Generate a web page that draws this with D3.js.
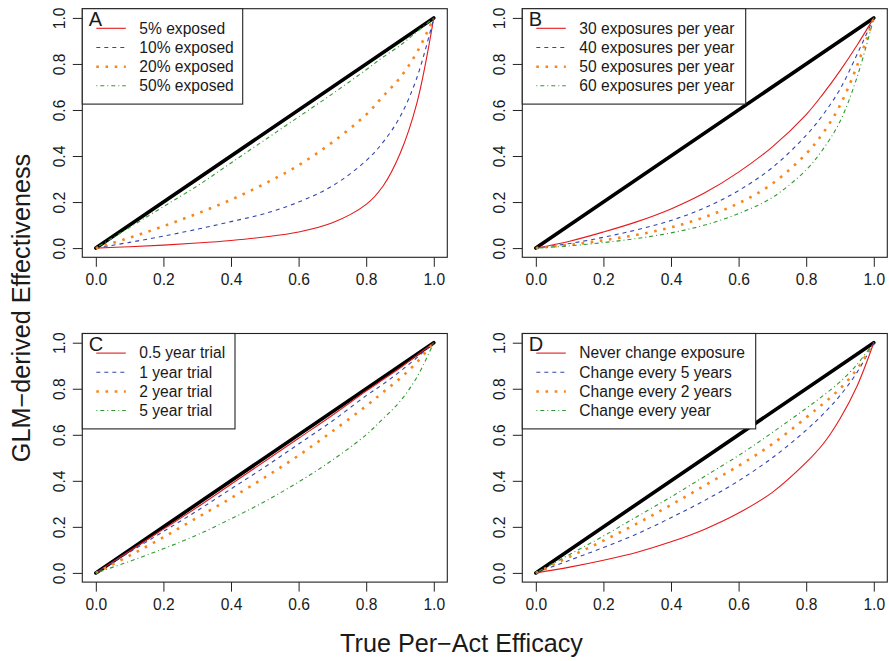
<!DOCTYPE html>
<html>
<head>
<meta charset="utf-8">
<script src="https://cdn.jsdelivr.net/npm/d3@7"></script>
<style>
  body { margin: 0; background: #fff; }
  svg { display: block; }
  text { font-family: "Liberation Sans", Arial, Helvetica, sans-serif; fill: #1a1a1a; }
</style>
</head>
<body>
<svg id="chart" width="889" height="661"></svg>
<script>
// Shared efficacy grid (x) for every curve
const efficacy = [0, 0.1, 0.2, 0.3, 0.4, 0.5, 0.6, 0.7, 0.8, 0.85, 0.9, 0.95, 1];
const tickValues = [0, 0.2, 0.4, 0.6, 0.8, 1.0];
const tickLabels = ["0.0", "0.2", "0.4", "0.6", "0.8", "1.0"];
const identityLine = [0, 1];

// Panel A: fraction of population exposed
const labelsA = ["5% exposed", "10% exposed", "20% exposed", "50% exposed"];
const exposed5  = [0, 0.006, 0.013, 0.022, 0.033, 0.048, 0.07, 0.11, 0.19, 0.27, 0.41, 0.63, 1];
const exposed10 = [0, 0.025, 0.052, 0.082, 0.115, 0.15, 0.20, 0.27, 0.38, 0.46, 0.57, 0.74, 1];
const exposed20 = [0, 0.045, 0.095, 0.15, 0.21, 0.28, 0.36, 0.46, 0.58, 0.66, 0.74, 0.85, 1];
const exposed50 = [0, 0.09, 0.18, 0.27, 0.37, 0.47, 0.57, 0.67, 0.775, 0.83, 0.88, 0.94, 1];

// Panel B: exposures per year
const labelsB = ["30 exposures per year", "40 exposures per year", "50 exposures per year", "60 exposures per year"];
const perYear30 = [0, 0.03, 0.07, 0.115, 0.17, 0.24, 0.33, 0.44, 0.58, 0.67, 0.77, 0.88, 1];
const perYear40 = [0, 0.02, 0.047, 0.08, 0.12, 0.175, 0.25, 0.35, 0.49, 0.58, 0.69, 0.84, 1];
const perYear50 = [0, 0.014, 0.034, 0.058, 0.09, 0.135, 0.195, 0.28, 0.41, 0.50, 0.62, 0.79, 1];
const perYear60 = [0, 0.01, 0.024, 0.042, 0.066, 0.10, 0.15, 0.22, 0.34, 0.43, 0.55, 0.74, 1];

// Panel C: trial duration
const labelsC = ["0.5 year trial", "1 year trial", "2 year trial", "5 year trial"];
const trialHalf = [0, 0.095, 0.19, 0.285, 0.385, 0.485, 0.585, 0.685, 0.79, 0.84, 0.89, 0.945, 1];
const trial1    = [0, 0.09, 0.18, 0.27, 0.365, 0.46, 0.56, 0.66, 0.77, 0.82, 0.875, 0.935, 1];
const trial2    = [0, 0.075, 0.155, 0.24, 0.325, 0.415, 0.51, 0.615, 0.725, 0.785, 0.845, 0.915, 1];
const trial5    = [0, 0.05, 0.105, 0.165, 0.235, 0.31, 0.395, 0.49, 0.60, 0.67, 0.745, 0.85, 1];

// Panel D: how often exposure status changes
const labelsD = ["Never change exposure", "Change every 5 years", "Change every 2 years", "Change every year"];
const changeNever  = [0, 0.025, 0.055, 0.09, 0.135, 0.19, 0.26, 0.35, 0.48, 0.56, 0.67, 0.81, 1];
const changeFive   = [0, 0.055, 0.11, 0.17, 0.24, 0.315, 0.40, 0.50, 0.62, 0.69, 0.77, 0.87, 1];
const changeTwo    = [0, 0.07, 0.14, 0.215, 0.295, 0.38, 0.465, 0.56, 0.675, 0.735, 0.80, 0.885, 1];
const changeYearly = [0, 0.08, 0.16, 0.245, 0.33, 0.42, 0.51, 0.61, 0.715, 0.77, 0.83, 0.905, 1];

// Line styles shared by all panels (solid, dashed, dotted, dot-dash)
const styles = [
  { color: "#e41a1c", width: 1.1, dash: null, cap: "butt" },
  { color: "#3346ad", width: 1.1, dash: "4,4", cap: "butt" },
  { color: "#f7861c", width: 2.6, dash: "2.6,6.6", cap: "butt" },
  { color: "#2f9a2f", width: 1.1, dash: "1,3,4,3", cap: "butt" }
];

const panels = [
  { letter: "A", left: 82.3, top: 8.7,   legendW: 160.4, labels: labelsA, series: [exposed5, exposed10, exposed20, exposed50] },
  { letter: "B", left: 522.3, top: 8.7,  legendW: 223.4, labels: labelsB, series: [perYear30, perYear40, perYear50, perYear60] },
  { letter: "C", left: 82.3, top: 333.5, legendW: 152.7, labels: labelsC, series: [trialHalf, trial1, trial2, trial5] },
  { letter: "D", left: 522.3, top: 333.5, legendW: 233.4, labels: labelsD, series: [changeNever, changeFive, changeTwo, changeYearly] }
];

const plotW = 365, plotH = 248.6;
const svg = d3.select("#chart");
const tickFont = 15.6;

panels.forEach(p => {
  const x = d3.scaleLinear().domain([-0.04, 1.04]).range([p.left, p.left + plotW]);
  const y = d3.scaleLinear().domain([-0.04, 1.04]).range([p.top + plotH, p.top]);
  const g = svg.append("g");

  // reference line of perfect agreement
  g.append("path")
    .datum(identityLine)
    .attr("d", d3.line().x(d => x(d)).y(d => y(d)))
    .attr("stroke", "#000").attr("stroke-width", 3.6).attr("fill", "none")
    .attr("stroke-linecap", "round");

  const line = d3.line()
    .x((d, i) => x(efficacy[i]))
    .y(d => y(d))
    .curve(d3.curveCatmullRom.alpha(0.5));

  p.series.forEach((vals, k) => {
    const s = styles[k];
    g.append("path")
      .datum(vals)
      .attr("d", line)
      .attr("fill", "none")
      .attr("stroke", s.color)
      .attr("stroke-width", s.width)
      .attr("stroke-dasharray", s.dash)
      .attr("stroke-linecap", s.cap);
  });

  // axes
  const xAxis = d3.axisBottom(x).tickValues(tickValues).tickFormat((d, i) => tickLabels[i])
    .tickSizeOuter(0).tickSizeInner(9.5).tickPadding(7);
  const ax = g.append("g").attr("transform", `translate(0,${p.top + plotH})`).call(xAxis);
  ax.select(".domain").remove();
  ax.selectAll("line").attr("stroke", "#222");
  ax.selectAll("text").attr("font-size", tickFont).style("font-family", "Liberation Sans, Arial, sans-serif").attr("fill", "#1a1a1a");

  const yAxis = d3.axisLeft(y).tickValues(tickValues).tickFormat((d, i) => tickLabels[i])
    .tickSizeOuter(0).tickSizeInner(9.5).tickPadding(0);
  const ay = g.append("g").attr("transform", `translate(${p.left},0)`).call(yAxis);
  ay.select(".domain").remove();
  ay.selectAll("line").attr("stroke", "#222");
  ay.selectAll("text")
    .attr("font-size", tickFont)
    .style("font-family", "Liberation Sans, Arial, sans-serif")
    .attr("fill", "#1a1a1a")
    .attr("x", null).attr("dy", null)
    .attr("text-anchor", "middle")
    .attr("transform", "translate(-17,0) rotate(-90)")
    .attr("y", 0);

  // plot frame
  g.append("rect")
    .attr("x", p.left).attr("y", p.top).attr("width", plotW).attr("height", plotH)
    .attr("fill", "none").attr("stroke", "#222").attr("stroke-width", 1.1);

  // legend
  const lg = g.append("g");
  lg.append("rect")
    .attr("x", p.left).attr("y", p.top).attr("width", p.legendW).attr("height", 95.4)
    .attr("fill", "#fff").attr("stroke", "#222").attr("stroke-width", 1.1);
  lg.append("text")
    .attr("x", p.left + 6.5).attr("y", p.top + 17.6)
    .attr("font-size", 20).text(p.letter);
  const rowY = [19.6, 38.8, 58.0, 77.0];
  p.labels.forEach((lab, k) => {
    const s = styles[k];
    const yy = p.top + rowY[k];
    lg.append("line")
      .attr("x1", p.left + 14).attr("x2", p.left + 43.5)
      .attr("y1", yy).attr("y2", yy)
      .attr("stroke", s.color).attr("stroke-width", s.width)
      .attr("stroke-dasharray", s.dash).attr("stroke-linecap", s.cap);
    lg.append("text")
      .attr("x", p.left + 57).attr("y", yy + 5.2)
      .attr("font-size", tickFont).text(lab);
  });
});

// shared axis titles
svg.append("text")
  .attr("transform", "translate(30,308) rotate(-90)")
  .attr("text-anchor", "middle")
  .attr("font-size", 25.2)
  .text("GLM\u2212derived Effectiveness");

svg.append("text")
  .attr("x", 461.5).attr("y", 652)
  .attr("text-anchor", "middle")
  .attr("font-size", 25.2)
  .text("True Per\u2212Act Efficacy");
</script>
</body>
</html>
